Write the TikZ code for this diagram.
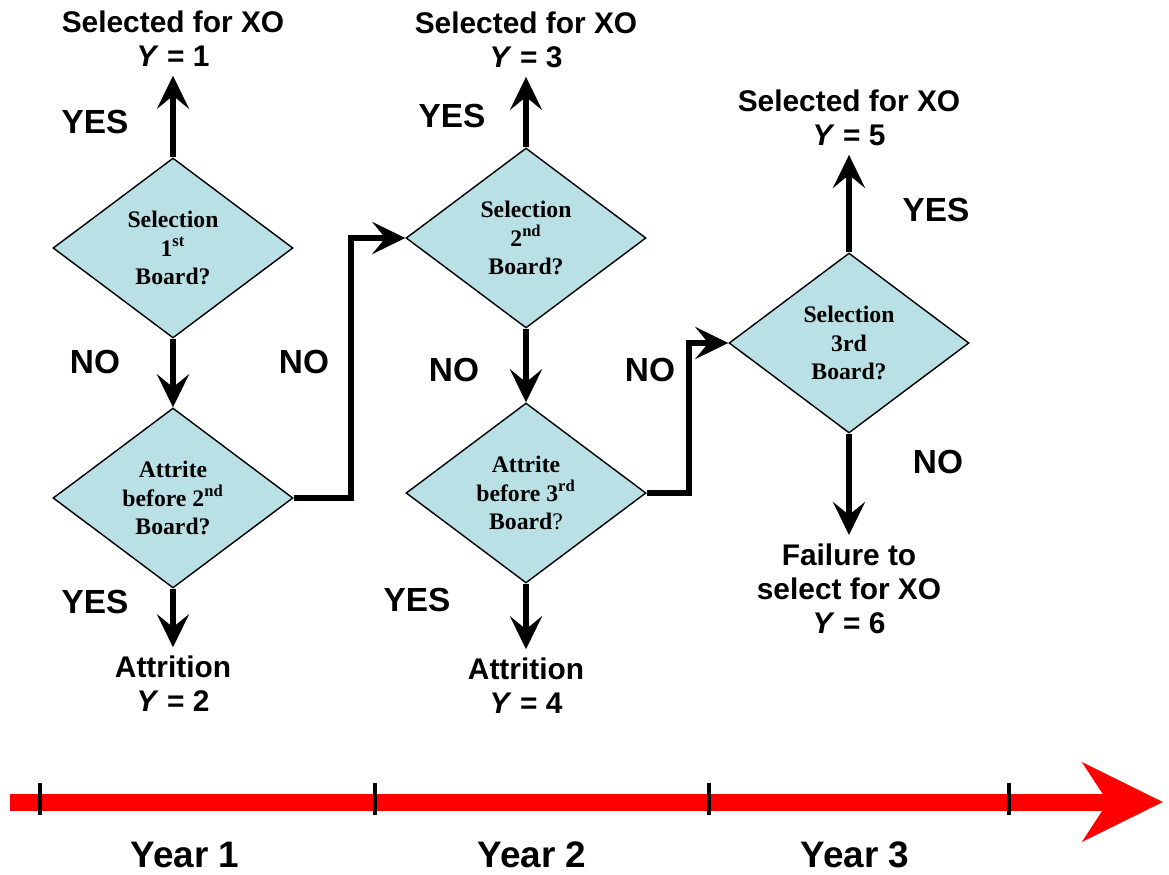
\documentclass[tikz,border=0pt]{standalone}
\usepackage{fontspec}
\setmainfont{Liberation Serif}
\setsansfont{Liberation Sans}
\usetikzlibrary{shapes,arrows.meta,positioning}
\definecolor{boxblue}{RGB}{185,224,228}
\newcommand{\labfont}{\sffamily\bfseries\fontsize{17}{19.5}\selectfont}
\newcommand{\ansfont}{\sffamily\bfseries\fontsize{19}{21}\selectfont}
\newcommand{\yearfont}{\sffamily\bfseries\fontsize{21}{24}\selectfont}
\newcommand{\difont}{\bfseries\fontsize{13.5}{16}\selectfont}

\tikzset{
  decision/.style={diamond, draw, fill=boxblue, line width=0.8pt, minimum width=4.8cm,
    minimum height=3.6cm, inner sep=0pt, align=center, font=\difont},
  outcome/.style={align=center, font=\labfont, inner sep=2pt, outer sep=3pt},
  answer/.style={font=\ansfont},
  flow/.style={line width=3.4pt, -{Stealth[length=0.66cm, width=0.64cm, inset=0.26cm]}},
}

\begin{document}
\begin{tikzpicture}[x=0.02cm, y=-0.02cm]
  \useasboundingbox (0,0) rectangle (1169,875);

  % decisions
  \node[decision] (sel1) at (173,248) {Selection\\1\textsuperscript{st}\\Board?};
  \node[decision] (att1) at (173,498) {Attrite\\before 2\textsuperscript{nd}\\Board?};
  \node[decision] (sel2) at (526,238) {Selection\\2\textsuperscript{nd}\\Board?};
  \node[decision] (att2) at (526,493) {Attrite\\before 3\textsuperscript{rd}\\Board{\mdseries ?}};
  \node[decision] (sel3) at (849,343) {Selection\\3rd\\Board?};

  % outcomes
  \node[outcome] (y1) at (173,39) {Selected for XO\\\textit{Y} = 1};
  \node[outcome] (y2) at (173,684) {Attrition\\\textit{Y} = 2};
  \node[outcome] (y3) at (526,40) {Selected for XO\\\textit{Y} = 3};
  \node[outcome] (y4) at (526,686) {Attrition\\\textit{Y} = 4};
  \node[outcome] (y5) at (849,118) {Selected for XO\\\textit{Y} = 5};
  \node[outcome] (y6) at (849,589) {Failure to\\select for XO\\\textit{Y} = 6};

  \draw[flow] (sel1) -- (y1);
  \draw[flow] (sel1) -- (att1);
  \draw[flow] (att1) -- (y2);
  \draw[flow] (att1.east) -- ++(57,0) |- (sel2.west);
  \draw[flow] (sel2) -- (y3);
  \draw[flow] (sel2) -- (att2);
  \draw[flow] (att2) -- (y4);
  \draw[flow] (att2.east) -- ++(42,0) |- (sel3.west);
  \draw[flow] (sel3) -- (y5);
  \draw[flow] (sel3) -- (y6);

  % answers
  \node[answer] (yes1) at (95,122) {YES};
  \node[answer] (no1) at (95,362) {NO};
  \node[answer] (yes2) at (95,602) {YES};
  \node[answer] (no2) at (304,362) {NO};
  \node[answer] (yes3) at (452,116) {YES};
  \node[answer] (no3) at (454,370) {NO};
  \node[answer] (yes4) at (417,600) {YES};
  \node[answer] (no4) at (650,370) {NO};
  \node[answer] (yes5) at (936,210) {YES};
  \node[answer] (no5) at (938,462) {NO};

  % time line
  \draw[red, line width=0.34cm, -{Stealth[length=1.6cm, width=1.56cm, inset=0.5cm]}] (10,802) -- (1163,802);
  \foreach \x in {40,375,709,1009}
    \draw[line width=2.2pt] (\x,783) -- (\x,815);
  \node[font=\yearfont] (year1) at (185,855) {Year 1};
  \node[font=\yearfont] (year2) at (532,855) {Year 2};
  \node[font=\yearfont] (year3) at (855,855) {Year 3};

\end{tikzpicture}
\end{document}
